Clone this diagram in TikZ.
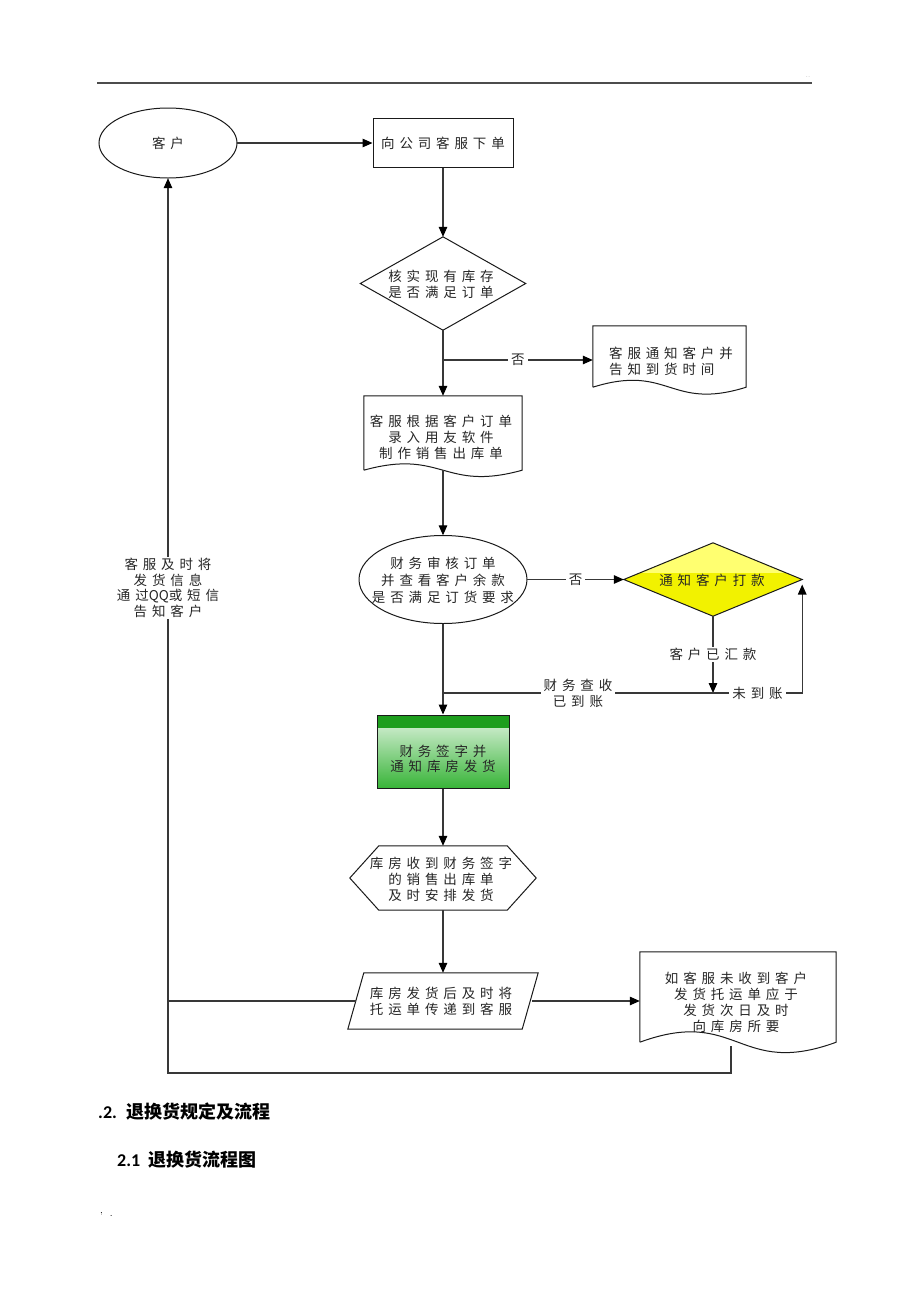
\documentclass[tikz,border=0pt]{standalone}
\usepackage{fontspec}
\newfontfamily\cjk[LetterSpace=36]{Noto Sans CJK SC}
\newfontfamily\cjkh{Noto Sans CJK SC}
\newfontfamily\latb{Carlito}
\usetikzlibrary{arrows.meta,calc}
\definecolor{lncol}{HTML}{383838}
\definecolor{shpcol}{HTML}{1A1A1A}
\definecolor{dkgreen}{HTML}{1E9E1E}
\definecolor{ltgreen}{HTML}{E2F4E2}
\definecolor{mdgreen}{HTML}{38B438}
\definecolor{ylw}{HTML}{F2F200}
\definecolor{ltylw}{HTML}{FFFF70}
\newcommand\DocOutline[2]{\draw[shp] (#1.south west) -- (#1.north west) -- (#1.north east) -- (#1.south east) .. controls ($(#1.south)+(0,#2)$) and ($(#1.south)+(0,-#2)$) .. (#1.south west);}
\begin{document}
\begin{tikzpicture}[x=1pt,y=-1pt,
  txt/.style={font=\cjk\fontsize{13.5}{16}\selectfont, align=center, text=black!85, inner sep=0pt},
  shp/.style={draw=shpcol, line width=1pt},
  ln/.style={draw=lncol, line width=1.3pt},
  arr/.style={ln, -{Triangle[length=10pt,width=8.5pt,color=black]}},
  lab/.style={txt, fill=white, inner xsep=3pt, inner ysep=1pt},
  frame/.style={inner sep=0pt, draw=none}]
\useasboundingbox (0,0) rectangle (920,1302);
\fill[white] (0,0) rectangle (920,1302);

% page header
\draw[gray!60!black, line width=1.5pt] (97,83) -- (812,83);
\node[font=\fontsize{6}{6}\selectfont, inner sep=0pt, text=gray] (tr) at (808,77) {..};

% shapes
\node[frame, txt, minimum width=138, minimum height=70] (c1) at (168,143) {客户};
\draw[shp] (c1.center) ellipse [x radius=69, y radius=35];

\node[txt, shp, minimum width=140, minimum height=49] (n1) at (443,143) {向公司客服下单};

\node[frame, minimum width=165, minimum height=93] (d1) at (443,283.5) {};
\draw[shp] (d1.north) -- (d1.east) -- (d1.south) -- (d1.west) -- cycle;
\node[txt] (d1t) at (441,284.5) {核实现有库存\\是否满足订单};

\node[frame, minimum width=153, minimum height=61] (doc1) at (669.5,356.5) {};
\DocOutline{doc1}{24}
\node[txt, align=left] (doc1t) at (671,361) {客服通知客户并\\告知到货时间};

\node[frame, minimum width=158, minimum height=74] (doc2) at (443,433) {};
\DocOutline{doc2}{22}
\node[txt] (doc2t) at (441,437.5) {客服根据客户订单\\录入用友软件\\制作销售出库单};

\node[frame, minimum width=168, minimum height=88] (e2) at (443,579.5) {};
\draw[shp] (e2.center) ellipse [x radius=84, y radius=44];
\node[txt, font=\cjk\fontsize{13.5}{17}\selectfont] (e2t) at (443,580) {财务审核订单\\并查看客户余款\\是否满足订货要求};

\node[frame, minimum width=178, minimum height=73] (yd) at (713,579.5) {};
\begin{scope}
  \clip (yd.north) -- (yd.east) -- (yd.south) -- (yd.west) -- cycle;
  \fill[ylw] (yd.north west) rectangle (yd.south east);
  \fill[ltylw] (yd.north west) rectangle ($(yd.east)+(0,-6.5)$);
\end{scope}
\draw[shp] (yd.north) -- (yd.east) -- (yd.south) -- (yd.west) -- cycle;
\node[txt] (ydt) at (712,580) {通知客户打款};

\node[txt, shp, font=\cjk\fontsize{13.5}{15}\selectfont, minimum width=132, minimum height=73,
  path picture={
    \shade[top color=ltgreen, bottom color=mdgreen] (path picture bounding box.north west) rectangle (path picture bounding box.south east);
    \fill[dkgreen] (path picture bounding box.north west) rectangle ([yshift=-13pt]path picture bounding box.north east);
  }] (g1) at (443,751.5) {\strut\\[-2pt]财务签字并\\通知库房发货};

\node[frame, minimum width=186, minimum height=64] (h1) at (443,878) {};
\draw[shp] ($(h1.north west)+(29,0)$) -- ($(h1.north east)+(-29,0)$) -- (h1.east) -- ($(h1.south east)+(-29,0)$) -- ($(h1.south west)+(29,0)$) -- (h1.west) -- cycle;
\node[txt] (h1t) at (441,879.5) {库房收到财务签字\\的销售出库单\\及时安排发货};

\node[frame, minimum width=190, minimum height=56] (p1) at (443,1001) {};
\draw[shp] ($(p1.north west)+(16,0)$) -- (p1.north east) -- ($(p1.south east)+(-16,0)$) -- (p1.south west) -- cycle;
\node[txt] (p1t) at (441,1001) {库房发货后及时将\\托运单传递到客服};

\node[frame, minimum width=196, minimum height=90] (doc3) at (738,997) {};
\DocOutline{doc3}{36}
\node[txt] (doc3t) at (736,1002) {如客服未收到客户\\发货托运单应于\\发货次日及时\\向库房所要};

% connectors
\draw[arr] (c1.east) -- (n1.west);
\draw[arr] (n1.south) -- (d1.north);
\draw[arr] (d1.south) -- (doc2.north);
\coordinate (b1) at (443,360);
\draw[arr] (b1) -- node[lab] (no1) {否} (b1 -| doc1.west);
\draw[arr] (doc2.south) -- (e2.north);
\draw[arr] (e2.east) -- node[lab] (no2) {否} (yd.west);
\coordinate (j1) at (713,693);
\draw[arr] (yd.south) -- node[lab] (paid) {客户已汇款} (j1);
\draw[ln] (j1) -- node[lab] (recv) {财务查收\\已到账} (j1 -| e2.south);
\draw[arr] (j1) -- node[lab] (notrecv) {未到账} (j1 -| yd.east) -- ($(yd.east)+(0,5)$);
\draw[arr] (e2.south) -- (g1.north);
\draw[arr] (g1.south) -- (h1.north);
\draw[arr] (h1.south) -- (p1.north);
\draw[arr] ($(p1.east)+(-6,0)$) -- (p1.east -| doc3.west);
\draw[ln] ($(p1.west)+(8,0)$) -- (p1.west -| c1.south);
\coordinate (r1) at (731,1073);
\draw[arr] ($(doc3.south -| r1)+(0,4)$) -- (r1) -| (c1.south);
\node[lab, font=\cjk\fontsize{13.5}{15.5}\selectfont] (lab1) at (168,588) {客服及时将\\发货信息\\通过{\addfontfeature{LetterSpace=0}QQ}或短信\\告知客户};

% headings
\node[anchor=west, inner sep=0pt] (hd1) at (98,1112) {\fontsize{18}{20}\selectfont\latb\bfseries .2.\hspace{10pt}\cjkh\bfseries 退换货规定及流程};
\node[anchor=west, inner sep=0pt] (hd2) at (117,1160) {\fontsize{18}{20}\selectfont\latb\bfseries 2.1\hspace{8pt}\cjkh\bfseries 退换货流程图};
\node[anchor=west, inner sep=0pt, font=\fontsize{10}{10}\selectfont] (ft) at (100,1214) {\raisebox{3pt}{,}\hspace{7pt}.};
\end{tikzpicture}
\end{document}
